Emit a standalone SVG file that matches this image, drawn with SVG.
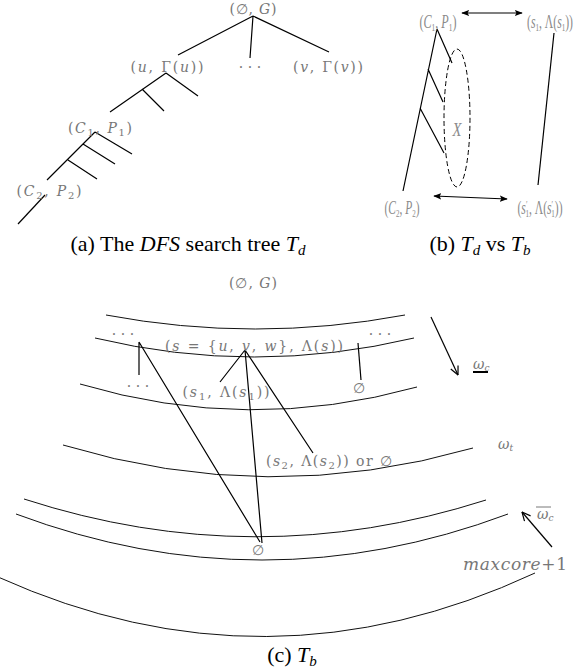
<svg xmlns="http://www.w3.org/2000/svg" width="584" height="672" viewBox="0 0 584 672">
<style>
.ln{stroke:#000;stroke-width:1.2;fill:none}
.arc{stroke:#111;stroke-width:1;fill:none}
.m{font-family:'DejaVu Serif','Liberation Serif',serif;font-size:14px;fill:#777}
.b{font-family:'Liberation Serif','DejaVu Serif',serif;font-size:18px;fill:#8a8a8a}
.cap{font-family:'Liberation Serif','DejaVu Serif',serif;font-size:22px;fill:#000}
.i{font-style:italic}
</style>
<defs>
<marker id="v" viewBox="0 0 10 10" refX="9.5" refY="5" markerWidth="10" markerHeight="10" markerUnits="userSpaceOnUse" orient="auto-start-reverse"><path d="M1,1 L9.5,5 L1,9" fill="none" stroke="#000" stroke-width="1.2"/></marker>
<marker id="f" viewBox="0 0 10 10" refX="9" refY="5" markerWidth="8" markerHeight="8" markerUnits="userSpaceOnUse" orient="auto-start-reverse"><path d="M0,1 L10,5 L0,9 L2,5 z" fill="#000"/></marker>
</defs>

<!-- (a) DFS tree -->
<g id="a-connectors">
<path class="ln" d="M253,16 L178,55 M253,16 L250,58 M253,16 L329,52"/>
<path class="ln" d="M166,73 L110,112 M166,73 L198,96 M142,89 L164,111"/>
<path class="ln" d="M95,132 L47,180 M95,132 L132,154 M83,144 L115,164 M68,160 L97,179"/>
<path class="ln" d="M45,195 L18,224"/>
</g>
<g id="a-root"><text class="m" x="253" y="14" text-anchor="middle" textLength="47">(∅, <tspan class="i">G</tspan>)</text></g>
<g id="a-u"><text class="m" x="167" y="72" text-anchor="middle" textLength="73">(<tspan class="i">u</tspan>, Γ(<tspan class="i">u</tspan>))</text></g>
<g id="a-dots"><text class="m" x="250" y="72" text-anchor="middle">· · ·</text></g>
<g id="a-v"><text class="m" x="328" y="72" text-anchor="middle" textLength="70">(<tspan class="i">v</tspan>, Γ(<tspan class="i">v</tspan>))</text></g>
<g id="a-c1"><text class="m" x="100" y="133" text-anchor="middle" textLength="64">(<tspan class="i">C</tspan><tspan dy="3" font-size="10">1</tspan><tspan dy="-3">, </tspan><tspan class="i">P</tspan><tspan dy="3" font-size="10">1</tspan><tspan dy="-3">)</tspan></text></g>
<g id="a-c2"><text class="m" x="49" y="196" text-anchor="middle" textLength="65">(<tspan class="i">C</tspan><tspan dy="3" font-size="10">2</tspan><tspan dy="-3">, </tspan><tspan class="i">P</tspan><tspan dy="3" font-size="10">2</tspan><tspan dy="-3">)</tspan></text></g>
<text class="cap" x="188" y="251" text-anchor="middle">(a) The <tspan class="i">DFS</tspan> search tree <tspan class="i">T</tspan><tspan dy="4" font-size="15" class="i">d</tspan></text>

<!-- (b) Td vs Tb -->
<g id="b-connectors">
<path class="ln" d="M437,29 L403,191 M437,29 L452,63 M428,69 L443,102 M420,108 L444,153" stroke-width="1"/>
<path class="ln" d="M554,33 L538,185" stroke-width="1"/>
<path class="ln" d="M462,13 L522,13" marker-start="url(#f)" marker-end="url(#f)"/>
<path class="ln" d="M434,196 L507,199" marker-start="url(#f)" marker-end="url(#f)"/>
<ellipse cx="457" cy="118" rx="13" ry="69" fill="none" stroke="#000" stroke-width="1" stroke-dasharray="5,3"/>
</g>
<g id="b-c1"><text class="b" x="438" y="28" text-anchor="middle" textLength="37" lengthAdjust="spacingAndGlyphs">(<tspan class="i">C</tspan><tspan dy="3" font-size="11">1</tspan><tspan dy="-3">, </tspan><tspan class="i">P</tspan><tspan dy="3" font-size="11">1</tspan><tspan dy="-3">)</tspan></text></g>
<g id="b-s1"><text class="b" x="550" y="28" text-anchor="middle" textLength="46" lengthAdjust="spacingAndGlyphs">(<tspan class="i">s</tspan><tspan dy="3" font-size="11">1</tspan><tspan dy="-3">, Λ(</tspan><tspan class="i">s</tspan><tspan dy="3" font-size="11">1</tspan><tspan dy="-3">))</tspan></text></g>
<g id="b-x"><text class="b i" x="457" y="136" text-anchor="middle" textLength="9" lengthAdjust="spacingAndGlyphs">X</text></g>
<g id="b-c2"><text class="b" x="402" y="214" text-anchor="middle" textLength="35" lengthAdjust="spacingAndGlyphs">(<tspan class="i">C</tspan><tspan dy="3" font-size="11">2</tspan><tspan dy="-3">, </tspan><tspan class="i">P</tspan><tspan dy="3" font-size="11">2</tspan><tspan dy="-3">)</tspan></text></g>
<g id="b-s1p"><text class="b" x="540" y="214" text-anchor="middle" textLength="45" lengthAdjust="spacingAndGlyphs">(<tspan class="i">s</tspan><tspan dy="-6" font-size="11">′</tspan><tspan dy="9" dx="-3" font-size="11">1</tspan><tspan dy="-3">, Λ(</tspan><tspan class="i">s</tspan><tspan dy="-6" font-size="11">′</tspan><tspan dy="9" dx="-3" font-size="11">1</tspan><tspan dy="-3">))</tspan></text></g>
<text class="cap" x="480" y="251" text-anchor="middle">(b) <tspan class="i">T</tspan><tspan dy="4" font-size="15" class="i">d</tspan><tspan dy="-4"> vs </tspan><tspan class="i">T</tspan><tspan dy="4" font-size="15" class="i">b</tspan></text>

<!-- (c) Tb -->
<g id="c-levels">
<path class="arc" d="M106,315 Q255,343 405,315"/>
<path class="arc" d="M95,338 Q254,376 414,338"/>
<path class="arc" d="M80,384 Q248,434 417,387"/>
<path class="arc" d="M63,445 Q268,507 473,448"/>
<path class="arc" d="M24,499 Q255,574 486,500"/>
<path class="arc" d="M16,514 Q262,606 508,514"/>
<path class="arc" d="M-2,577 Q267,698 535,573"/>
</g>
<g id="c-connectors">
<path class="ln" d="M139,342 L139,375 M139,342 L260,542"/>
<path class="ln" d="M245,350 L220,382 M245,350 L262,543 M245,350 L313,453"/>
<path class="ln" d="M358,343 L361,380"/>
<path class="ln" d="M431,317 L458,375" marker-end="url(#v)"/>
<path class="ln" d="M552,547 L522,512" marker-end="url(#v)"/>
</g>
<g id="c-root"><text class="m" x="253" y="288" text-anchor="middle" textLength="48">(∅, <tspan class="i">G</tspan>)</text></g>
<g id="c-dots1"><text class="m" x="123" y="339" text-anchor="middle">· · ·</text></g>
<g id="c-s"><text class="m" x="254" y="351" text-anchor="middle" textLength="178">(<tspan class="i">s</tspan> = {<tspan class="i">u</tspan>, <tspan class="i">v</tspan>, <tspan class="i">w</tspan>}, Λ(<tspan class="i">s</tspan>))</text></g>
<g id="c-dots2"><text class="m" x="380" y="339" text-anchor="middle">· · ·</text></g>
<g id="c-dots3"><text class="m" x="138" y="391" text-anchor="middle">· · ·</text></g>
<g id="c-s1"><text class="m" x="226" y="397" text-anchor="middle" textLength="87">(<tspan class="i">s</tspan><tspan dy="3" font-size="10">1</tspan><tspan dy="-3">, Λ(</tspan><tspan class="i">s</tspan><tspan dy="3" font-size="10">1</tspan><tspan dy="-3">))</tspan></text></g>
<g id="c-empty1"><text class="m" x="359" y="393" text-anchor="middle">∅</text></g>
<g id="c-s2"><text class="m" x="329" y="466" text-anchor="middle" textLength="126">(<tspan class="i">s</tspan><tspan dy="3" font-size="10">2</tspan><tspan dy="-3">, Λ(</tspan><tspan class="i">s</tspan><tspan dy="3" font-size="10">2</tspan><tspan dy="-3">)) or ∅</tspan></text></g>
<g id="c-empty2"><text class="m" x="258" y="555" text-anchor="middle">∅</text></g>
<g id="c-wc">
<text class="m i" x="473" y="369">ω<tspan dy="2" font-size="9">c</tspan></text>
<line x1="473" y1="372" x2="488" y2="372" stroke="#000" stroke-width="2"/>
</g>
<g id="c-wt"><text class="m i" x="498" y="449">ω<tspan dy="2" font-size="9">t</tspan></text></g>
<g id="c-wcbar">
<text class="m i" x="537" y="519">ω<tspan dy="2" font-size="9">c</tspan></text>
<line x1="536" y1="507" x2="551" y2="507" stroke="#555" stroke-width="0.8"/>
</g>
<g id="c-maxcore"><text class="m" x="463" y="570" style="font-size:17px" textLength="104"><tspan class="i">maxcore</tspan>+1</text></g>
<text class="cap" x="292" y="662" text-anchor="middle">(c) <tspan class="i">T</tspan><tspan dy="4" font-size="15" class="i">b</tspan></text>
</svg>
